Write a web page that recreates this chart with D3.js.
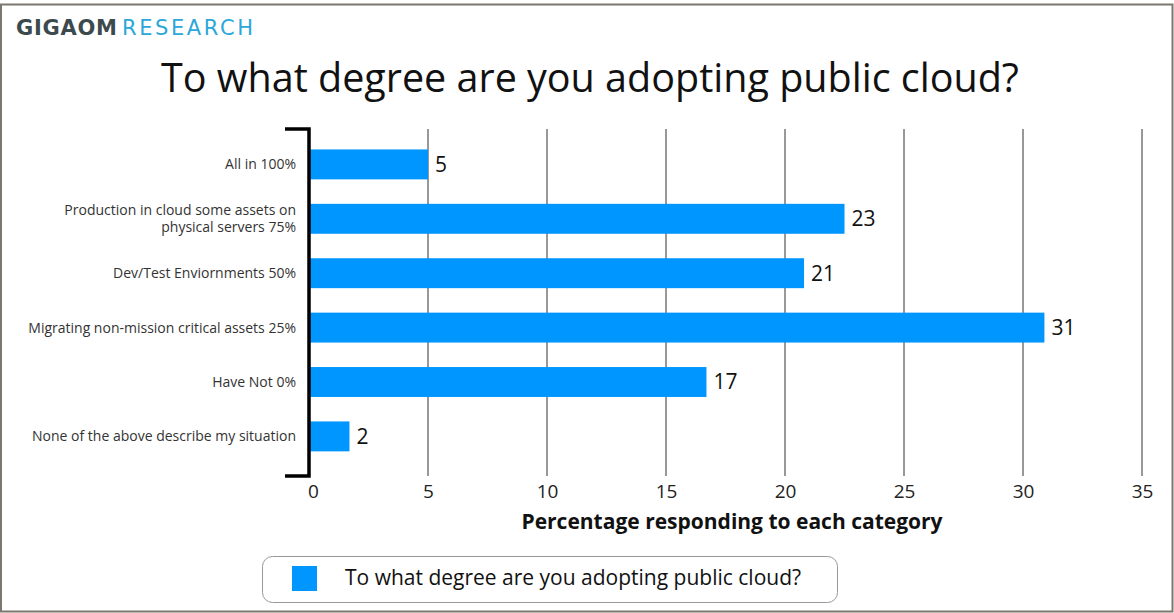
<!DOCTYPE html>
<html>
<head>
<meta charset="utf-8">
<script src="https://cdn.jsdelivr.net/npm/d3@7"></script>
<style>
  html, body { margin: 0; padding: 0; background: #fff; }
  svg { display: block; }
</style>
</head>
<body>
<script>
const categories = [
  ["All in 100%"],
  ["Production in cloud some assets on", "physical servers 75%"],
  ["Dev/Test Enviornments 50%"],
  ["Migrating non-mission critical assets 25%"],
  ["Have Not 0%"],
  ["None of the above describe my situation"]
];
const values = [5.0, 22.5, 20.8, 30.9, 16.7, 1.7];
const valueLabels = ["5", "23", "21", "31", "17", "2"];
const xTicks = [0, 5, 10, 15, 20, 25, 30, 35];
const title = "To what degree are you adopting public cloud?";
const axisTitle = "Percentage responding to each category";
const legendLabel = "To what degree are you adopting public cloud?";

(function () {
const W = 1174, H = 613;
const font = "'Open Sans', 'Noto Sans', sans-serif";
const blue = "#0096ff";

const svg = d3.select("body").append("svg").attr("width", W).attr("height", H);

svg.append("rect").attr("x", 0).attr("y", 0).attr("width", W).attr("height", H).attr("fill", "#fff");
// outer frame
svg.append("rect").attr("x", 1).attr("y", 4.5).attr("width", 1171.5).attr("height", 607)
  .attr("fill", "none").attr("stroke", "#7b776c").attr("stroke-width", 2);

// logo
const logo = svg.append("text").attr("y", 35)
  .attr("font-family", "'DejaVu Sans', sans-serif").attr("font-size", 21);
logo.append("tspan").attr("x", 16).attr("font-weight", 700).attr("fill", "#3c4a4d")
  .attr("textLength", 101).attr("lengthAdjust", "spacing").text("GIGAOM");
logo.append("tspan").attr("x", 122).attr("font-weight", 400).attr("fill", "#2ba7d9")
  .attr("textLength", 131).attr("lengthAdjust", "spacing").text("RESEARCH");

// title
svg.append("text").attr("x", 590).attr("y", 92).attr("text-anchor", "middle")
  .attr("font-family", font).attr("font-size", 39.5).attr("fill", "#111").text(title);

const x = d3.scaleLinear().domain([0, 35]).range([309, 1142]);
const y = d3.scaleBand().domain(d3.range(categories.length)).range([137.2, 463.6])
  .paddingInner(0.45).paddingOuter(0.225);

const yTop = 129, yBottom = 476;

// gridlines
svg.append("g").selectAll("line").data(xTicks.filter(d => d > 0)).join("line")
  .attr("x1", d => x(d)).attr("x2", d => x(d)).attr("y1", yTop).attr("y2", yBottom)
  .attr("stroke", "#333").attr("stroke-width", 1);

// x axis tick labels
const xAxis = d3.axisBottom(x).tickValues(xTicks).tickSize(0).tickPadding(0);
const gx = svg.append("g").attr("transform", `translate(0,${yBottom + 16})`).call(xAxis);
gx.select(".domain").remove();
gx.selectAll("text").attr("font-family", font).attr("font-size", 19).attr("fill", "#222")
  .attr("dy", "0.32em").attr("y", 0);
gx.selectAll(".tick").filter(d => d === 0).select("text").attr("dx", 4);

// bars
svg.append("g").selectAll("rect").data(values).join("rect")
  .attr("x", x(0) + 1).attr("y", (d, i) => y(i))
  .attr("width", d => x(d) - x(0) - 1).attr("height", y.bandwidth())
  .attr("fill", blue);

// value labels
svg.append("g").selectAll("text").data(values).join("text")
  .attr("x", d => x(d) + 7).attr("y", (d, i) => y(i) + y.bandwidth() / 2)
  .attr("dy", "0.35em").attr("font-family", font).attr("font-size", 21).attr("fill", "#111")
  .text((d, i) => valueLabels[i]);

// category labels
const cat = svg.append("g").selectAll("text").data(categories).join("text")
  .attr("text-anchor", "end").attr("font-family", font).attr("font-size", 14).attr("fill", "#333")
  .attr("x", 296)
  .attr("y", (d, i) => y(i) + y.bandwidth() / 2 - (d.length - 1) * 8.5);
cat.selectAll("tspan").data(d => d).join("tspan")
  .attr("x", 296).attr("dy", (d, j) => j === 0 ? "0.35em" : "17").text(d => d);

// bracket axis
svg.append("path")
  .attr("d", `M285,${yTop} H${x(0)} V${yBottom} H285`)
  .attr("fill", "none").attr("stroke", "#000").attr("stroke-width", 3.5);

// axis title
svg.append("text").attr("x", 732).attr("y", 529).attr("text-anchor", "middle")
  .attr("font-family", font).attr("font-size", 21).attr("font-weight", 700).attr("fill", "#111")
  .text(axisTitle);

// legend
svg.append("rect").attr("x", 262.5).attr("y", 556.5).attr("width", 575).attr("height", 46)
  .attr("rx", 10).attr("fill", "#fff").attr("stroke", "#999").attr("stroke-width", 1);
svg.append("rect").attr("x", 292).attr("y", 566).attr("width", 25).attr("height", 25).attr("fill", blue);
svg.append("text").attr("x", 345).attr("y", 578).attr("dy", "0.35em")
  .attr("font-family", font).attr("font-size", 21).attr("fill", "#111").text(legendLabel);
})();
</script>
</body>
</html>
